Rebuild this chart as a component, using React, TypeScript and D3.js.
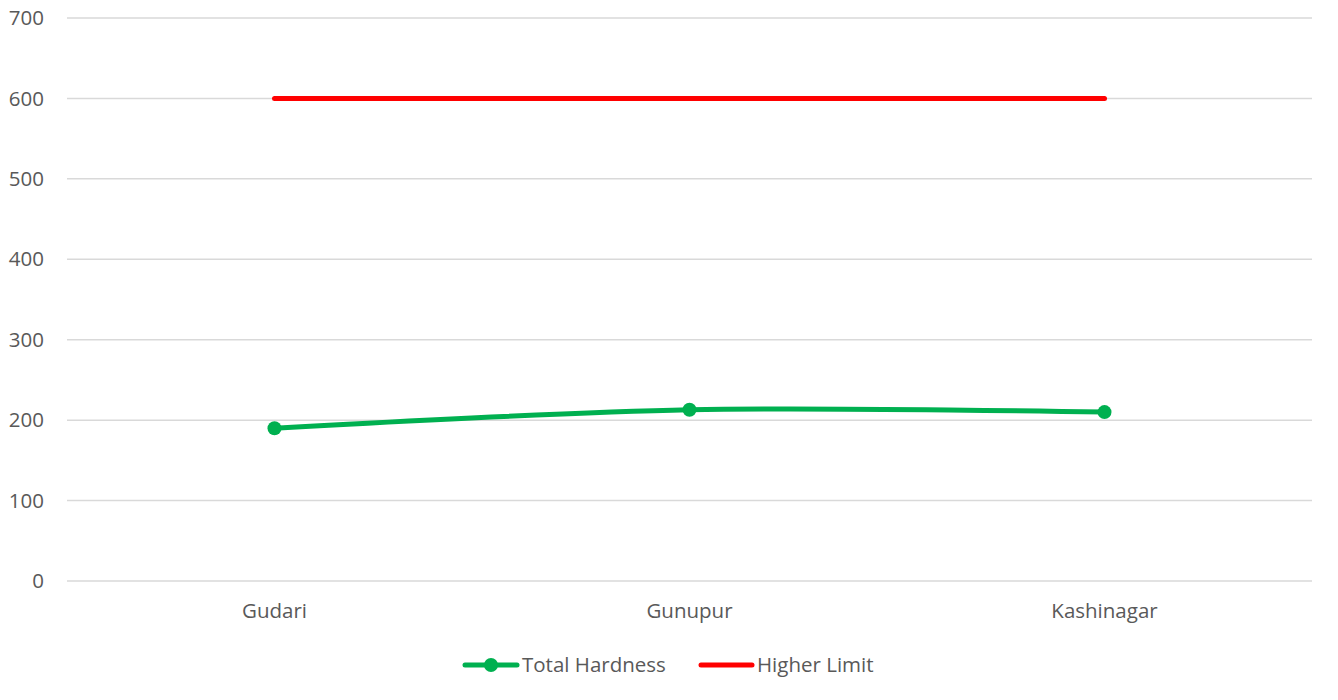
import React from "react";
import * as d3 from "d3";

const categories = ["Gudari", "Gunupur", "Kashinagar"];
const totalHardness = [190, 213, 210];
const higherLimit = [600, 600, 600];
const yTicks = [0, 100, 200, 300, 400, 500, 600, 700];

const width = 1338;
const height = 700;
const margin = { top: 18, right: 26, bottom: 119, left: 67 };
const font = "'Open Sans', Calibri, sans-serif";
const fontSize = 20.5;
const textColor = "#595959";

const App: React.FC = () => {
  const x = d3
    .scaleBand<string>()
    .domain(categories)
    .range([margin.left, width - margin.right]);

  const y = d3
    .scaleLinear()
    .domain([0, 700])
    .range([height - margin.bottom, margin.top]);

  const cx = (c: string) => (x(c) || 0) + x.bandwidth() / 2;

  const smoothLine = d3
    .line<number>()
    .x((_, i) => cx(categories[i]))
    .y((d) => y(d))
    .curve(d3.curveCatmullRom.alpha(0));

  const straightLine = d3
    .line<number>()
    .x((_, i) => cx(categories[i]))
    .y((d) => y(d));

  return (
    <svg
      width={width}
      height={height}
      style={{ position: "absolute", left: 0, top: 0, background: "#fff" }}
    >
      {yTicks.map((t) => (
        <g key={t}>
          <line
            x1={margin.left}
            x2={width - margin.right}
            y1={y(t)}
            y2={y(t)}
            stroke="#d9d9d9"
            strokeWidth={1.5}
          />
          <text
            x={44}
            y={y(t)}
            dy="0.35em"
            textAnchor="end"
            fontFamily={font}
            fontSize={fontSize}
            fill={textColor}
          >
            {t}
          </text>
        </g>
      ))}

      {categories.map((c) => (
        <text
          key={c}
          x={cx(c)}
          y={y(0) + 30}
          dy="0.35em"
          textAnchor="middle"
          fontFamily={font}
          fontSize={fontSize}
          fill={textColor}
        >
          {c}
        </text>
      ))}

      <path
        d={straightLine(higherLimit) || ""}
        fill="none"
        stroke="#ff0000"
        strokeWidth={5}
        strokeLinecap="round"
      />
      <path
        d={smoothLine(totalHardness) || ""}
        fill="none"
        stroke="#00b050"
        strokeWidth={5}
        strokeLinecap="round"
      />
      {totalHardness.map((v, i) => (
        <circle key={i} cx={cx(categories[i])} cy={y(v)} r={7} fill="#00b050" />
      ))}

      <g transform="translate(0,665)">
        <line x1={465} x2={517} y1={0} y2={0} stroke="#00b050" strokeWidth={5} strokeLinecap="round" />
        <circle cx={491} cy={0} r={7} fill="#00b050" />
        <text x={522} y={0} dy="0.35em" fontFamily={font} fontSize={fontSize} fill={textColor}>
          Total Hardness
        </text>
        <line x1={701} x2={752} y1={0} y2={0} stroke="#ff0000" strokeWidth={5} strokeLinecap="round" />
        <text x={757} y={0} dy="0.35em" fontFamily={font} fontSize={fontSize} fill={textColor}>
          Higher Limit
        </text>
      </g>
    </svg>
  );
};

export default App;
